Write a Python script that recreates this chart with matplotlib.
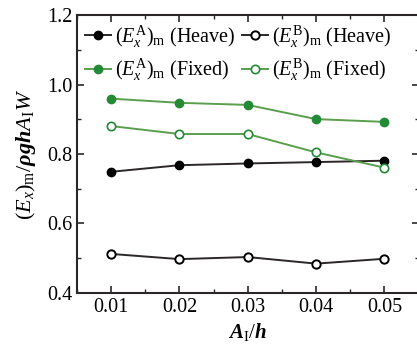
import matplotlib
matplotlib.use("Agg")
import matplotlib.pyplot as plt
from matplotlib.ticker import MultipleLocator

plt.rcParams['font.family'] = ['Liberation Serif', 'DejaVu Serif']
plt.rcParams['mathtext.fontset'] = 'custom'
plt.rcParams['mathtext.rm'] = 'Liberation Serif'
plt.rcParams['mathtext.it'] = 'Liberation Serif:italic'
plt.rcParams['mathtext.bf'] = 'Liberation Serif:italic:bold'

# Relative amplitude A_I/h
amp = [0.01, 0.02, 0.03, 0.04, 0.05]

# Maximum horizontal wave force, normalised by rho*g*h*A_I*W
heave_A = [0.749, 0.768, 0.773, 0.777, 0.781]
heave_B = [0.512, 0.497, 0.503, 0.484, 0.498]
fixed_A = [0.960, 0.948, 0.942, 0.901, 0.893]
fixed_B = [0.881, 0.858, 0.858, 0.805, 0.761]

labels = [r"$(E_x^{\mathrm{A}})_{\mathrm{m}}$ (Heave)",
          r"$(E_x^{\mathrm{B}})_{\mathrm{m}}$ (Heave)",
          r"$(E_x^{\mathrm{A}})_{\mathrm{m}}$ (Fixed)",
          r"$(E_x^{\mathrm{B}})_{\mathrm{m}}$ (Fixed)"]

black_line = '#2b2727'
green_line = '#5a9e4e'
green_mark = '#238a35'

fig = plt.figure(figsize=(4.17, 3.44), dpi=100)
ax = fig.add_axes([0.1847, 0.149, 1.0036 - 0.1847, 0.955 - 0.149])

ms = 6
hA, = ax.plot(amp, heave_A, '-o', color=black_line, lw=1.4, ms=ms,
              mfc='black', mec='black')
hB, = ax.plot(amp, heave_B, '-o', color=black_line, lw=1.4, ms=ms,
              mfc='white', mec='black', mew=1.4)
fA, = ax.plot(amp, fixed_A, '-o', color=green_line, lw=1.4, ms=ms,
              mfc=green_mark, mec=green_mark)
fB, = ax.plot(amp, fixed_B, '-o', color=green_line, lw=1.4, ms=ms,
              mfc='white', mec=green_mark, mew=1.2)

ax.set_xlim(0.005, 0.055)
ax.set_ylim(0.4, 1.2)
ax.xaxis.set_major_locator(MultipleLocator(0.01))
ax.xaxis.set_minor_locator(MultipleLocator(0.005))
ax.yaxis.set_major_locator(MultipleLocator(0.2))
ax.yaxis.set_minor_locator(MultipleLocator(0.1))
ax.xaxis.set_major_formatter(plt.FuncFormatter(lambda v, p: f"{v:.2f}"))
ax.yaxis.set_major_formatter(plt.FuncFormatter(lambda v, p: f"{v:.1f}"))

ax.tick_params(which='both', direction='in', top=True, right=True,
               color='#2b2727', labelsize=14.5)
ax.tick_params(which='major', length=5, width=1.2)
ax.tick_params(which='minor', length=3, width=1.0)
for s in ax.spines.values():
    s.set_linewidth(1.5)
    s.set_color('#2b2727')

ax.set_xlabel(r"$\mathbf{A}_{\mathrm{I}}/\mathbf{h}$", fontsize=15, labelpad=3)
ax.set_ylabel(r"$(E_x)_{\mathrm{m}}/\mathbf{\rho g h}A_{\mathrm{I}}W$",
              fontsize=16, labelpad=6)

# two columns, filled row by row (matplotlib fills column-wise)
ax.legend([hA, fA, hB, fB], [labels[0], labels[2], labels[1], labels[3]],
          ncol=2, loc='upper left', frameon=False, fontsize=14.5,
          handlelength=1.3, handletextpad=0.2, columnspacing=0.3,
          labelspacing=0.35, borderaxespad=0.2, borderpad=0.2)

fig.savefig('out.png', dpi=100)
